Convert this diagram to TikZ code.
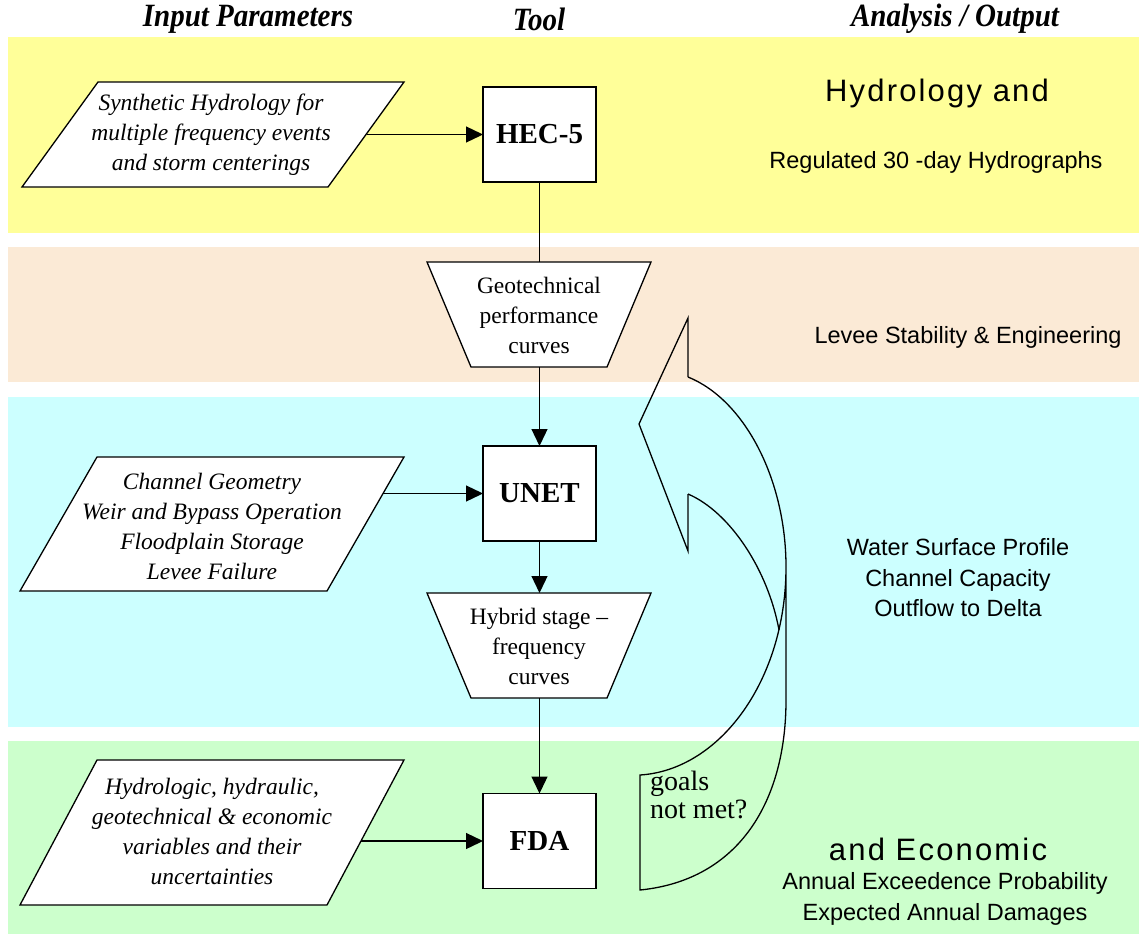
\documentclass[tikz,border=0pt]{standalone}
\usepackage{fontspec}
\usepackage{graphicx}
\setmainfont{Liberation Serif}
\newfontfamily\arial{Liberation Sans}
\newfontfamily\arialsp[LetterSpace=7]{Liberation Sans}
\usetikzlibrary{arrows.meta,calc}
\begin{document}
\begin{tikzpicture}[x=1pt,y=-1pt,
  shp/.style={draw=black, fill=white, line width=1.3pt, line join=miter},
  toolbox/.style={draw=black, fill=white, line width=1.3pt, inner sep=0pt, outer sep=0pt,
    minimum width=113pt, minimum height=95pt, font=\fontsize{29}{34}\selectfont\bfseries},
  intxt/.style={align=center, font=\fontsize{23.5}{30}\selectfont\itshape, inner sep=0pt},
  trtxt/.style={align=center, font=\fontsize{23.5}{30}\selectfont, inner sep=0pt},
  outtxt/.style={align=center, font=\fontsize{23.5}{30.5}\selectfont\arial, inner sep=0pt},
  bigtxt/.style={font=\fontsize{31}{34}\selectfont\arialsp, inner sep=0pt},
  hdr/.style={inner sep=0pt},
  arr/.style={-{Triangle[length=17pt,width=16pt]}, line width=1.3pt},
  conn/.style={line width=1.3pt},
  loop/.style={draw=black, line width=1.3pt, line join=miter}
]
\path[use as bounding box] (0,0) rectangle (1139,934);
\fill[white] (0,0) rectangle (1139,934);
% bands
\fill[fill={rgb,255:red,255;green,255;blue,153}] (8,37) rectangle (1139,233);
\fill[fill={rgb,255:red,251;green,234;blue,214}] (8,247) rectangle (1139,382);
\fill[fill={rgb,255:red,204;green,255;blue,255}] (8,397) rectangle (1139,727);
\fill[fill={rgb,255:red,204;green,255;blue,204}] (8,741) rectangle (1139,934);

% headers
\node[hdr] (h1) at (248,19) {\scalebox{1}[1.12]{\fontsize{29}{34}\selectfont\bfseries\itshape Input Parameters}};
\node[hdr] (h2) at (539,19) {\scalebox{1}[1.12]{\fontsize{29}{34}\selectfont\bfseries\itshape Tool}};
\node[hdr] (h3) at (955,19) {\scalebox{1}[1.12]{\fontsize{29}{34}\selectfont\bfseries\itshape Analysis / Output}};

% input parallelograms
\draw[shp] (98,82) -- (404,82) -- (328,187) -- (22,187) -- cycle;
\node[intxt] (p1) at (211,135) {Synthetic Hydrology for\\multiple frequency events\\and storm centerings};
\coordinate (p1e) at (367,134.5);

\draw[shp] (97,457) -- (404,457) -- (327,591) -- (20,591) -- cycle;
\node[intxt] (p2) at (212,526) {Channel Geometry\\Weir and Bypass Operation\\Floodplain Storage\\Levee Failure};
\coordinate (p2e) at (383,493.5);

\draw[shp] (97,760) -- (404,760) -- (327,905) -- (20,905) -- cycle;
\node[intxt] (p3) at (212,831) {Hydrologic, hydraulic,\\geotechnical \& economic\\variables and their\\uncertainties};
\coordinate (p3e) at (361,841);

% tool boxes
\node[toolbox] (hec) at (539.5,134.5) {HEC-5};
\node[toolbox] (unet) at (539.5,493.5) {UNET};
\node[toolbox] (fda) at (539.5,841) {FDA};

% trapezoids
\draw[shp] (427,262) -- (651,262) -- (607,367) -- (471,367) -- cycle;
\node[trtxt] (geo) at (539,315) {Geotechnical\\performance\\curves};
\coordinate (geotop) at (539.5,262);
\coordinate (geobot) at (539.5,367);

\draw[shp] (427,593) -- (651,593) -- (607,698) -- (471,698) -- cycle;
\node[trtxt] (hyb) at (539,646) {Hybrid stage --\\frequency\\curves};
\coordinate (hybtop) at (539.5,593);
\coordinate (hybbot) at (539.5,698);

% connectors
\draw[arr] (p1e) -- (hec.west);
\draw[arr] (p2e) -- (unet.west);
\draw[arr] (p3e) -- (fda.west);
\draw[conn] (hec.south) -- (geotop);
\draw[arr] (geobot) -- (unet.north);
\draw[arr] (unet.south) -- (hybtop);
\draw[arr] (hybbot) -- (fda.north);

% curved feedback arrow
\coordinate (ntop) at (688,377);
\coordinate (hup) at (688,318);
\coordinate (tip) at (639,424);
\coordinate (hlo) at (688,551);
\coordinate (nlo) at (688,494);
\coordinate (rmid) at (786,567);
\coordinate (cross) at (779,630);
\coordinate (rlow) at (786,700);
\coordinate (bl) at (640,890);
\coordinate (tl) at (640,775);
\draw[loop] (ntop) -- (hup) -- (tip) -- (hlo) -- (nlo);
\draw[loop] (ntop) .. controls (745,400) and (786,480) .. (rmid)
  .. controls (786,680) and (720,770) .. (tl) -- (bl)
  .. controls (740,880) and (786,800) .. (rlow) -- (rmid);
\draw[loop] (nlo) .. controls (730,512) and (768,570) .. (cross);
\node[anchor=north west, align=left, inner sep=0pt, font=\fontsize{28}{28}\selectfont] (goals) at (650,771) {goals\\not met?};

% output texts
\node[bigtxt] (o1) at (937,93) {Hydrology and};
\node[outtxt] (o2) at (936,162) {Regulated 30 -day Hydrographs};
\node[outtxt] (o3) at (968,337) {Levee Stability \& Engineering};
\node[outtxt] (o4) at (958,578) {Water Surface Profile\\Channel Capacity\\Outflow to Delta};
\node[bigtxt] (o5) at (938,849) {and Economic};
\node[outtxt] (o6) at (945,899) {Annual Exceedence Probability\\Expected Annual Damages};
\end{tikzpicture}
\end{document}
